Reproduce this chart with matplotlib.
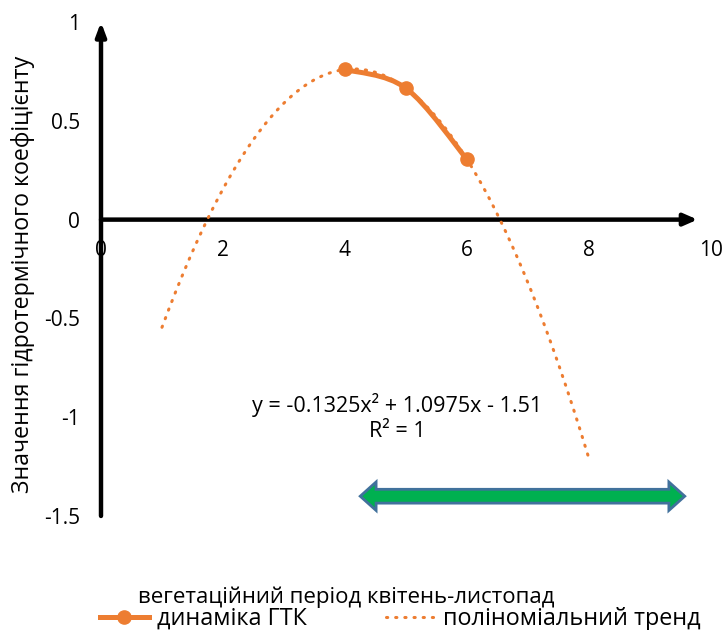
import matplotlib.pyplot as plt
import numpy as np
from matplotlib.lines import Line2D
from matplotlib.patches import Polygon, PathPatch
from matplotlib.path import Path

plt.rcParams["font.family"] = ["Open Sans", "DejaVu Sans"]

# months of the vegetation period (4 = April ... 6 = June) and the hydrothermal coefficient
month_x = [4, 5, 6]
gtk_y = [0.76, 0.665, 0.305]

x_ticks = [0, 2, 4, 6, 8, 10]
y_ticks = [-1.5, -1, -0.5, 0, 0.5, 1]
y_tick_labels = ["-1.5", "-1", "-0.5", "0", "0.5", "1"]

ORANGE = "#ED7D31"
GREEN = "#00B050"
BLUE_EDGE = "#41719C"
DOTS = (0, (0.4, 2.6))


def smooth_path(xs, ys):
    # spreadsheet-style smoothed line: cubic Bezier segments through the points
    pts = np.column_stack([xs, ys]).astype(float)
    ext = np.vstack([pts[0], pts, pts[-1]])
    verts = [tuple(pts[0])]
    codes = [Path.MOVETO]
    for i in range(1, len(ext) - 2):
        c1 = ext[i] + (ext[i + 1] - ext[i - 1]) / 6
        c2 = ext[i + 1] - (ext[i + 2] - ext[i]) / 6
        verts += [tuple(c1), tuple(c2), tuple(ext[i + 1])]
        codes += [Path.CURVE4] * 3
    return Path(verts, codes)


fig = plt.figure(figsize=(7.24, 6.3), dpi=100)
ax = fig.add_axes([0.1395, 0.181, 0.8425, 0.784])
ax.set_xlim(0, 10)
ax.set_ylim(-1.5, 1)

# 2nd order polynomial trend through the data, like the spreadsheet trendline
coef = np.polyfit(month_x, gtk_y, 2)
trend_x = np.linspace(1, 8, 300)
trend_y = np.polyval(coef, trend_x)
ax.plot(trend_x, trend_y, color=ORANGE, lw=2.2, linestyle=DOTS,
        dash_capstyle="round", zorder=3)
ax.add_patch(PathPatch(smooth_path(month_x, gtk_y), fc="none", ec=ORANGE,
                       lw=3.6, capstyle="round", zorder=4))
ax.plot(month_x, gtk_y, linestyle="none", color=ORANGE, marker="o",
        markersize=9.5, zorder=5)

# axes drawn as arrows crossing at zero
for side in ["top", "right", "left", "bottom"]:
    ax.spines[side].set_visible(False)
ax.spines["bottom"].set_position(("data", 0))
ax.annotate("", xy=(9.78, 0), xytext=(0, 0),
            arrowprops=dict(arrowstyle="-|>,head_length=0.8,head_width=0.35",
                            lw=3.2, color="black", shrinkA=0, shrinkB=0), zorder=2)
ax.annotate("", xy=(0, 1.0), xytext=(0, -1.5),
            arrowprops=dict(arrowstyle="-|>,head_length=0.8,head_width=0.3",
                            lw=3.2, color="black", shrinkA=0, shrinkB=0),
            annotation_clip=False, zorder=2)

ax.set_xticks(x_ticks)
ax.set_xticklabels([str(t) for t in x_ticks])
ax.set_yticks(y_ticks)
ax.set_yticklabels(y_tick_labels)
ax.tick_params(axis="both", length=0, labelsize=15, colors="black")
ax.tick_params(axis="x", pad=15)
ax.tick_params(axis="y", pad=15)
ax.set_ylabel("Значення гідротермічного коефіцієнту", fontsize=16.7)
ax.yaxis.set_label_coords(-0.108, 0.49)

eq = f"y = {coef[0]:.4f}x² + {coef[1]:.4f}x - {abs(coef[2]):.2f}"
ax.text(4.85, -0.94, eq, ha="center", va="center", fontsize=15.5)
ax.text(4.85, -1.07, "R² = 1", ha="center", va="center", fontsize=15.5)

# double-headed green arrow marking the vegetation period
x0, x1, yc = 4.25, 9.57, -1.40
head, shaft, wing = 0.26, 0.035, 0.072
arrow_pts = [(x0, yc), (x0 + head, yc + wing), (x0 + head, yc + shaft),
             (x1 - head, yc + shaft), (x1 - head, yc + wing), (x1, yc),
             (x1 - head, yc - wing), (x1 - head, yc - shaft),
             (x0 + head, yc - shaft), (x0 + head, yc - wing)]
ax.add_patch(Polygon(arrow_pts, closed=True, fc=GREEN, ec=BLUE_EDGE, lw=2,
                     clip_on=False, zorder=3))

fig.text(0.478, 0.052, "вегетаційний період квітень-листопад", ha="center",
         va="center", fontsize=16)

handles = [
    Line2D([], [], color=ORANGE, lw=3.6, marker="o", markersize=9.5),
    Line2D([], [], color=ORANGE, lw=2.2, linestyle=DOTS, dash_capstyle="round"),
]
fig.legend(handles, ["динаміка ГТК", "поліноміальний тренд"], ncol=2,
           loc="center left", bbox_to_anchor=(0.138, 0.0175), frameon=False,
           fontsize=16.8, handlelength=2.1, handletextpad=0.35, columnspacing=3.4,
           borderaxespad=0, borderpad=0)

fig.savefig("out.png", dpi=100)
